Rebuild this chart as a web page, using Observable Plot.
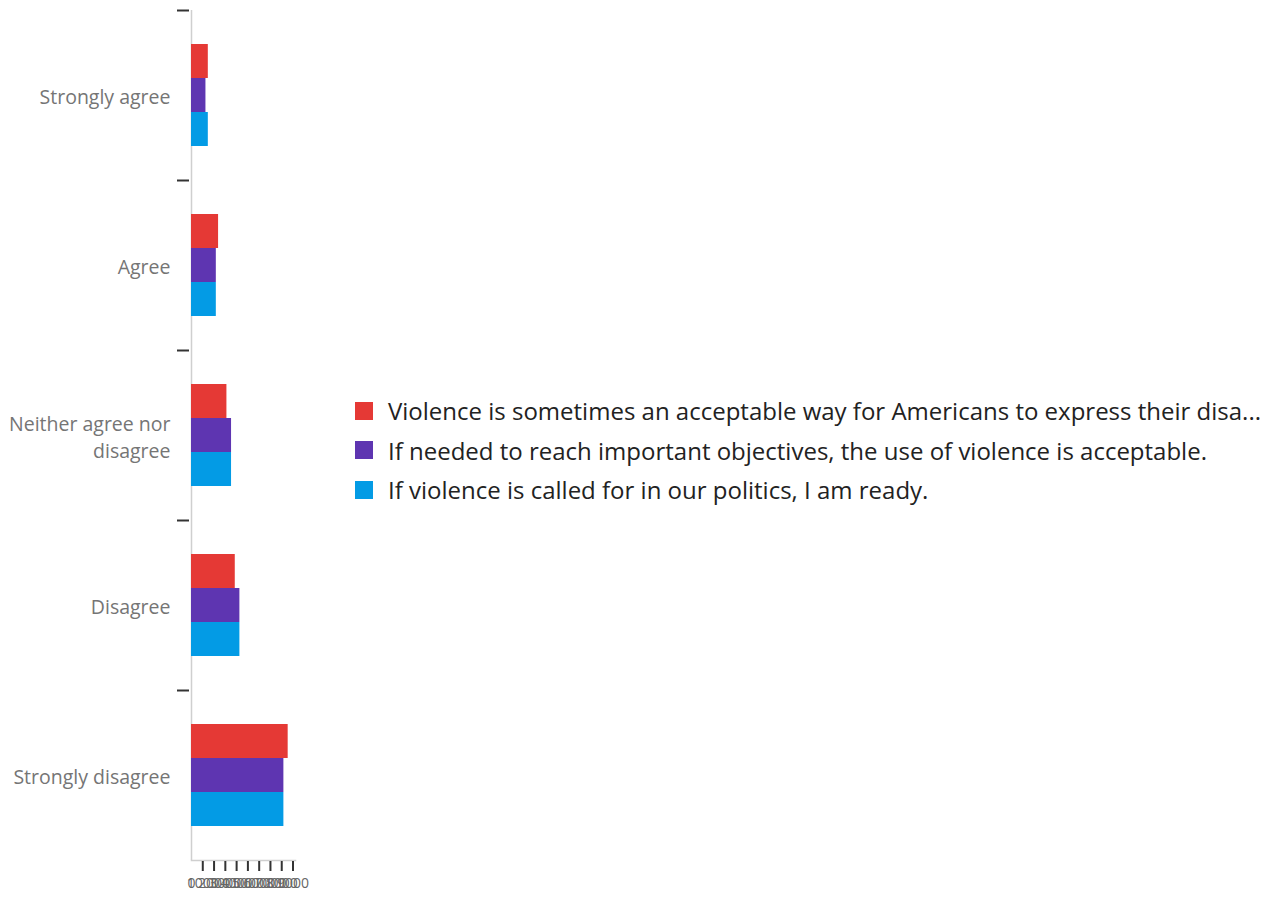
<!DOCTYPE html>
<html>
<head>
<meta charset="utf-8">
<script src="https://cdn.jsdelivr.net/npm/d3@7"></script>
<script src="https://cdn.jsdelivr.net/npm/@observablehq/plot@0.6"></script>
<style>
  html, body { margin: 0; padding: 0; background: #fff; }
  #wrap { position: relative; width: 1270px; height: 899px; font-family: "Open Sans", sans-serif; }
  #chart { position: absolute; left: 0; top: 0; }
  #legend { position: absolute; left: 355px; top: 391px; }
  .row { display: flex; align-items: center; height: 39.5px; font-size: 24px; color: #222; white-space: nowrap; }
  .sw { width: 18px; height: 18px; margin-right: 15px; flex: none; }
</style>
</head>
<body>
<div id="wrap"><div id="chart"></div><div id="legend"></div></div>
<script>
const categories = ["Strongly agree", "Agree", "Neither agree nor disagree", "Disagree", "Strongly disagree"];
const series = [
  "Violence is sometimes an acceptable way for Americans to express their disa...",
  "If needed to reach important objectives, the use of violence is acceptable.",
  "If violence is called for in our politics, I am ready."
];
const colors = ["#E53935", "#5E35B1", "#039BE5"];
const violenceAcceptable = [1490, 2400, 3140, 3880, 8570];
const objectives = [1280, 2200, 3550, 4290, 8190];
const ready = [1490, 2200, 3550, 4290, 8190];
const xTicks = [0, 1000, 2000, 3000, 4000, 5000, 6000, 7000, 8000, 9000];

const valuesBySeries = [violenceAcceptable, objectives, ready];
const data = categories.flatMap((c, i) => series.map((s, j) => ({category: c, series: s, value: valuesBySeries[j][i]})));

const height = 899, marginTop = 10, marginBottom = 39;
const bandHalf = (height - marginTop - marginBottom) / categories.length / 2;

const chart = Plot.plot({
  width: 320,
  height,
  marginLeft: 191,
  marginRight: 25,
  marginTop,
  marginBottom,
  style: {fontFamily: "Open Sans, sans-serif", background: "#fff", overflow: "visible"},
  x: {domain: [0, 9220], label: null},
  y: {domain: series, paddingInner: 0, paddingOuter: 1, axis: null, label: null},
  fy: {domain: categories, padding: 0, label: null},
  color: {domain: series, range: colors},
  marks: [
    Plot.ruleX([0], {stroke: "#cfcfcf", strokeWidth: 1.5}),
    Plot.barX(data, {x: "value", y: "series", fy: "category", fill: "series"}),
    Plot.frame({anchor: "bottom", facetAnchor: "bottom", stroke: "#cfcfcf", strokeWidth: 1.5}),
    Plot.axisX(xTicks.slice(1), {tickSize: 10, text: null, stroke: "#333", strokeWidth: 2, dy: 1, label: null}),
    Plot.axisX(xTicks, {tickSize: 0, tickPadding: 18, fontSize: 14, fill: "#666", tickFormat: d => String(d), label: null}),
    Plot.axisFy({anchor: "left", tickSize: 12, text: null, dy: -bandHalf, dx: -2, stroke: "#333", strokeWidth: 2, label: null}),
    Plot.axisFy({anchor: "left", tickSize: 0, tickPadding: 21, fontSize: 19.5, fill: "#757575", lineHeight: 1.4, label: null,
      tickFormat: d => d === "Neither agree nor disagree" ? "Neither agree nor\ndisagree" : d})
  ]
});
document.getElementById("chart").appendChild(chart);

const legend = d3.select("#legend");
series.forEach((s, i) => {
  const row = legend.append("div").attr("class", "row");
  row.append("div").attr("class", "sw").style("background", colors[i]);
  row.append("span").text(s);
});
</script>
</body>
</html>
